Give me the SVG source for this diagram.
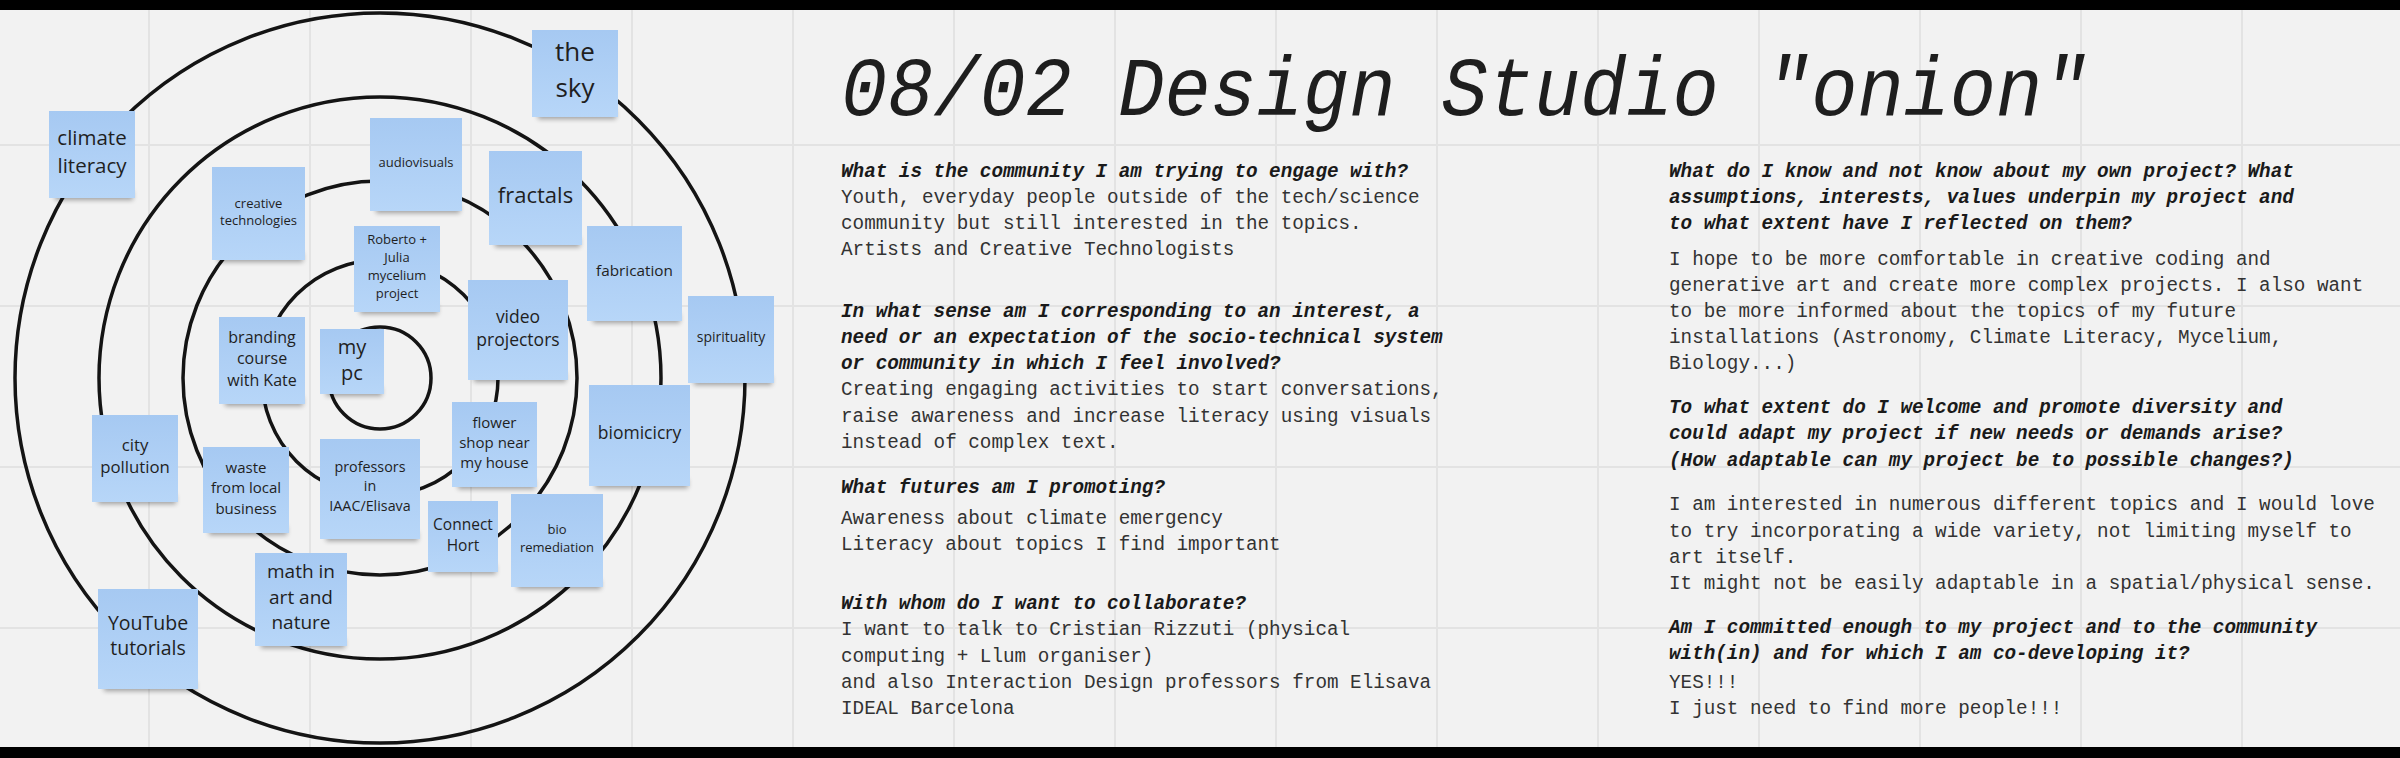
<svg xmlns="http://www.w3.org/2000/svg" width="2400" height="758" viewBox="0 0 2400 758">
<defs>
<linearGradient id="stkg" x1="0" y1="0" x2="0" y2="1">
<stop offset="0" stop-color="#a6c9f2"/>
<stop offset="1" stop-color="#b7d6f8"/>
</linearGradient>
<filter id="blur" x="-20%" y="-50%" width="140%" height="200%"><feGaussianBlur stdDeviation="2.5"/></filter>
<style>
.grid line{stroke:#e3e3e3;stroke-width:2}
.ring{fill:none;stroke:#141414;stroke-width:3.5}
.stk{fill:url(#stkg)}
.shd{fill:#000;opacity:0.35;filter:url(#blur)}
.st{font-family:"Open Sans","Noto Sans","Liberation Sans",sans-serif;fill:#1f1f1f;text-anchor:middle}
.mono{font-family:"Liberation Mono","DejaVu Sans Mono",monospace;font-size:19.3px}
.h{font-weight:bold;font-style:italic;fill:#1a1a1a}
.b{fill:#333333}
.title{font-family:"Liberation Mono","DejaVu Sans Mono",monospace;font-style:italic;font-size:77px;fill:#1e1e1e}
</style>
</defs>
<rect x="0" y="0" width="2400" height="758" fill="#f2f2f2"/>
<g class="grid" id="grid">
<line x1="149" y1="0" x2="149" y2="758"/><line x1="310" y1="0" x2="310" y2="758"/><line x1="471" y1="0" x2="471" y2="758"/><line x1="632" y1="0" x2="632" y2="758"/><line x1="793" y1="0" x2="793" y2="758"/><line x1="954" y1="0" x2="954" y2="758"/><line x1="1115" y1="0" x2="1115" y2="758"/><line x1="1276" y1="0" x2="1276" y2="758"/><line x1="1437" y1="0" x2="1437" y2="758"/><line x1="1598" y1="0" x2="1598" y2="758"/><line x1="1759" y1="0" x2="1759" y2="758"/><line x1="1920" y1="0" x2="1920" y2="758"/><line x1="2081" y1="0" x2="2081" y2="758"/><line x1="2242" y1="0" x2="2242" y2="758"/>
<line x1="0" y1="145" x2="2400" y2="145"/><line x1="0" y1="306" x2="2400" y2="306"/><line x1="0" y1="467" x2="2400" y2="467"/><line x1="0" y1="628" x2="2400" y2="628"/>
</g>
<g id="onion">
<circle class="ring" cx="380" cy="378" r="365"/>
<circle class="ring" cx="380" cy="378" r="281"/>
<circle class="ring" cx="380" cy="378" r="197"/>
<circle class="ring" cx="380" cy="378" r="118"/>
<circle class="ring" cx="380" cy="378" r="51"/>
</g>
<g id="connectors"></g>
<g id="n-the-sky"><rect class="shd" x="538" y="110" width="78" height="9"/><rect class="stk" x="532" y="30" width="86" height="87"/><text class="st" font-size="26"><tspan x="575" y="61">the</tspan><tspan x="575" y="96.5">sky</tspan></text></g>
<g id="n-climate-literacy"><rect class="shd" x="55" y="191" width="78" height="9"/><rect class="stk" x="49" y="111" width="86" height="87"/><text class="st" font-size="20.5"><tspan x="92" y="145">climate</tspan><tspan x="92" y="173">literacy</tspan></text></g>
<g id="n-audiovisuals"><rect class="shd" x="376" y="204" width="84" height="9"/><rect class="stk" x="370" y="118" width="92" height="93"/><text class="st" font-size="13"><tspan x="416" y="167">audiovisuals</tspan></text></g>
<g id="n-creative-technologies"><rect class="shd" x="218" y="253" width="85" height="9"/><rect class="stk" x="212" y="167" width="93" height="93"/><text class="st" font-size="13"><tspan x="258.5" y="208">creative</tspan><tspan x="258.5" y="225">technologies</tspan></text></g>
<g id="n-fractals"><rect class="shd" x="495" y="238" width="85" height="9"/><rect class="stk" x="489" y="151" width="93" height="94"/><text class="st" font-size="22"><tspan x="535.5" y="203">fractals</tspan></text></g>
<g id="n-roberto-julia"><rect class="shd" x="360" y="305" width="78" height="9"/><rect class="stk" x="354" y="226" width="86" height="86"/><text class="st" font-size="13"><tspan x="397" y="244">Roberto +</tspan><tspan x="397" y="262">Julia</tspan><tspan x="397" y="280">mycelium</tspan><tspan x="397" y="298">project</tspan></text></g>
<g id="n-fabrication"><rect class="shd" x="593" y="314" width="87" height="9"/><rect class="stk" x="587" y="226" width="95" height="95"/><text class="st" font-size="15.3"><tspan x="634.5" y="276">fabrication</tspan></text></g>
<g id="n-video-projectors"><rect class="shd" x="474" y="373" width="92" height="9"/><rect class="stk" x="468" y="280" width="100" height="100"/><text class="st" font-size="17.5"><tspan x="518" y="323">video</tspan><tspan x="518" y="346">projectors</tspan></text></g>
<g id="n-spirituality"><rect class="shd" x="694" y="376" width="78" height="9"/><rect class="stk" x="688" y="296" width="86" height="87"/><text class="st" font-size="14"><tspan x="731" y="342">spirituality</tspan></text></g>
<g id="n-branding"><rect class="shd" x="225" y="397" width="78" height="9"/><rect class="stk" x="219" y="317" width="86" height="87"/><text class="st" font-size="16"><tspan x="262" y="343">branding</tspan><tspan x="262" y="364">course</tspan><tspan x="262" y="386">with Kate</tspan></text></g>
<g id="n-my-pc"><rect class="shd" x="326" y="387" width="56" height="9"/><rect class="stk" x="320" y="329" width="64" height="65"/><text class="st" font-size="20"><tspan x="352" y="354">my</tspan><tspan x="352" y="380">pc</tspan></text></g>
<g id="n-biomicicry"><rect class="shd" x="595" y="479" width="93" height="9"/><rect class="stk" x="589" y="385" width="101" height="101"/><text class="st" font-size="17.5"><tspan x="639.5" y="439">biomicicry</tspan></text></g>
<g id="n-flower-shop"><rect class="shd" x="458" y="480" width="77" height="9"/><rect class="stk" x="452" y="402" width="85" height="85"/><text class="st" font-size="15"><tspan x="494.5" y="428">flower</tspan><tspan x="494.5" y="448">shop near</tspan><tspan x="494.5" y="468">my house</tspan></text></g>
<g id="n-city-pollution"><rect class="shd" x="98" y="495" width="78" height="9"/><rect class="stk" x="92" y="415" width="86" height="87"/><text class="st" font-size="16.8"><tspan x="135" y="451">city</tspan><tspan x="135" y="473">pollution</tspan></text></g>
<g id="n-waste"><rect class="shd" x="209" y="526" width="78" height="9"/><rect class="stk" x="203" y="447" width="86" height="86"/><text class="st" font-size="15"><tspan x="246" y="473">waste</tspan><tspan x="246" y="493">from local</tspan><tspan x="246" y="514">business</tspan></text></g>
<g id="n-professors"><rect class="shd" x="326" y="532" width="92" height="9"/><rect class="stk" x="320" y="439" width="100" height="100"/><text class="st" font-size="14.3"><tspan x="370" y="472">professors</tspan><tspan x="370" y="491">in</tspan><tspan x="370" y="511">IAAC/Elisava</tspan></text></g>
<g id="n-connect-hort"><rect class="shd" x="434" y="565" width="62" height="9"/><rect class="stk" x="428" y="501" width="70" height="71"/><text class="st" font-size="15.5"><tspan x="463" y="530">Connect</tspan><tspan x="463" y="551">Hort</tspan></text></g>
<g id="n-bio-remediation"><rect class="shd" x="517" y="580" width="84" height="9"/><rect class="stk" x="511" y="494" width="92" height="93"/><text class="st" font-size="13"><tspan x="557" y="534">bio</tspan><tspan x="557" y="552">remediation</tspan></text></g>
<g id="n-math-art-nature"><rect class="shd" x="261" y="639" width="84" height="9"/><rect class="stk" x="255" y="553" width="92" height="93"/><text class="st" font-size="19"><tspan x="301" y="578">math in</tspan><tspan x="301" y="604">art and</tspan><tspan x="301" y="629">nature</tspan></text></g>
<g id="n-youtube"><rect class="shd" x="104" y="682" width="92" height="9"/><rect class="stk" x="98" y="589" width="100" height="100"/><text class="st" font-size="19.5"><tspan x="148" y="630">YouTube</tspan><tspan x="148" y="655">tutorials</tspan></text></g>
<g id="title"><text class="title" x="841" y="115" transform="translate(0,115) scale(1,1.08) translate(0,-115)">08/02 Design Studio "onion"</text></g>
<g id="left-column" class="mono">
<text class="h" x="841" y="177">What is the community I am trying to engage with?</text>
<text class="b" x="841" y="203">Youth, everyday people outside of the tech/science</text>
<text class="b" x="841" y="229">community but still interested in the topics.</text>
<text class="b" x="841" y="255">Artists and Creative Technologists</text>
<text class="h" x="841" y="317">In what sense am I corresponding to an interest, a</text>
<text class="h" x="841" y="343">need or an expectation of the socio-technical system</text>
<text class="h" x="841" y="369">or community in which I feel involved?</text>
<text class="b" x="841" y="395">Creating engaging activities to start conversations,</text>
<text class="b" x="841" y="422">raise awareness and increase literacy using visuals</text>
<text class="b" x="841" y="448">instead of complex text.</text>
<text class="h" x="841" y="493">What futures am I promoting?</text>
<text class="b" x="841" y="524">Awareness about climate emergency</text>
<text class="b" x="841" y="550">Literacy about topics I find important</text>
<text class="h" x="841" y="609">With whom do I want to collaborate?</text>
<text class="b" x="841" y="635">I want to talk to Cristian Rizzuti (physical</text>
<text class="b" x="841" y="662">computing + Llum organiser)</text>
<text class="b" x="841" y="688">and also Interaction Design professors from Elisava</text>
<text class="b" x="841" y="714">IDEAL Barcelona</text>
</g>
<g id="right-column" class="mono">
<text class="h" x="1669" y="177">What do I know and not know about my own project? What</text>
<text class="h" x="1669" y="203">assumptions, interests, values underpin my project and</text>
<text class="h" x="1669" y="229">to what extent have I reflected on them?</text>
<text class="b" x="1669" y="265">I hope to be more comfortable in creative coding and</text>
<text class="b" x="1669" y="291">generative art and create more complex projects. I also want</text>
<text class="b" x="1669" y="317">to be more informed about the topics of my future</text>
<text class="b" x="1669" y="343">installations (Astronomy, Climate Literacy, Mycelium,</text>
<text class="b" x="1669" y="369">Biology...)</text>
<text class="h" x="1669" y="413">To what extent do I welcome and promote diversity and</text>
<text class="h" x="1669" y="439">could adapt my project if new needs or demands arise?</text>
<text class="h" x="1669" y="466">(How adaptable can my project be to possible changes?)</text>
<text class="b" x="1669" y="510">I am interested in numerous different topics and I would love</text>
<text class="b" x="1669" y="537">to try incorporating a wide variety, not limiting myself to</text>
<text class="b" x="1669" y="563">art itself.</text>
<text class="b" x="1669" y="589">It might not be easily adaptable in a spatial/physical sense.</text>
<text class="h" x="1669" y="633">Am I committed enough to my project and to the community</text>
<text class="h" x="1669" y="659">with(in) and for which I am co-developing it?</text>
<text class="b" x="1669" y="688">YES!!!</text>
<text class="b" x="1669" y="714">I just need to find more people!!!</text>
</g>
<rect x="0" y="0" width="2400" height="10" fill="#000"/>
<rect x="0" y="747" width="2400" height="11" fill="#000"/>
</svg>
